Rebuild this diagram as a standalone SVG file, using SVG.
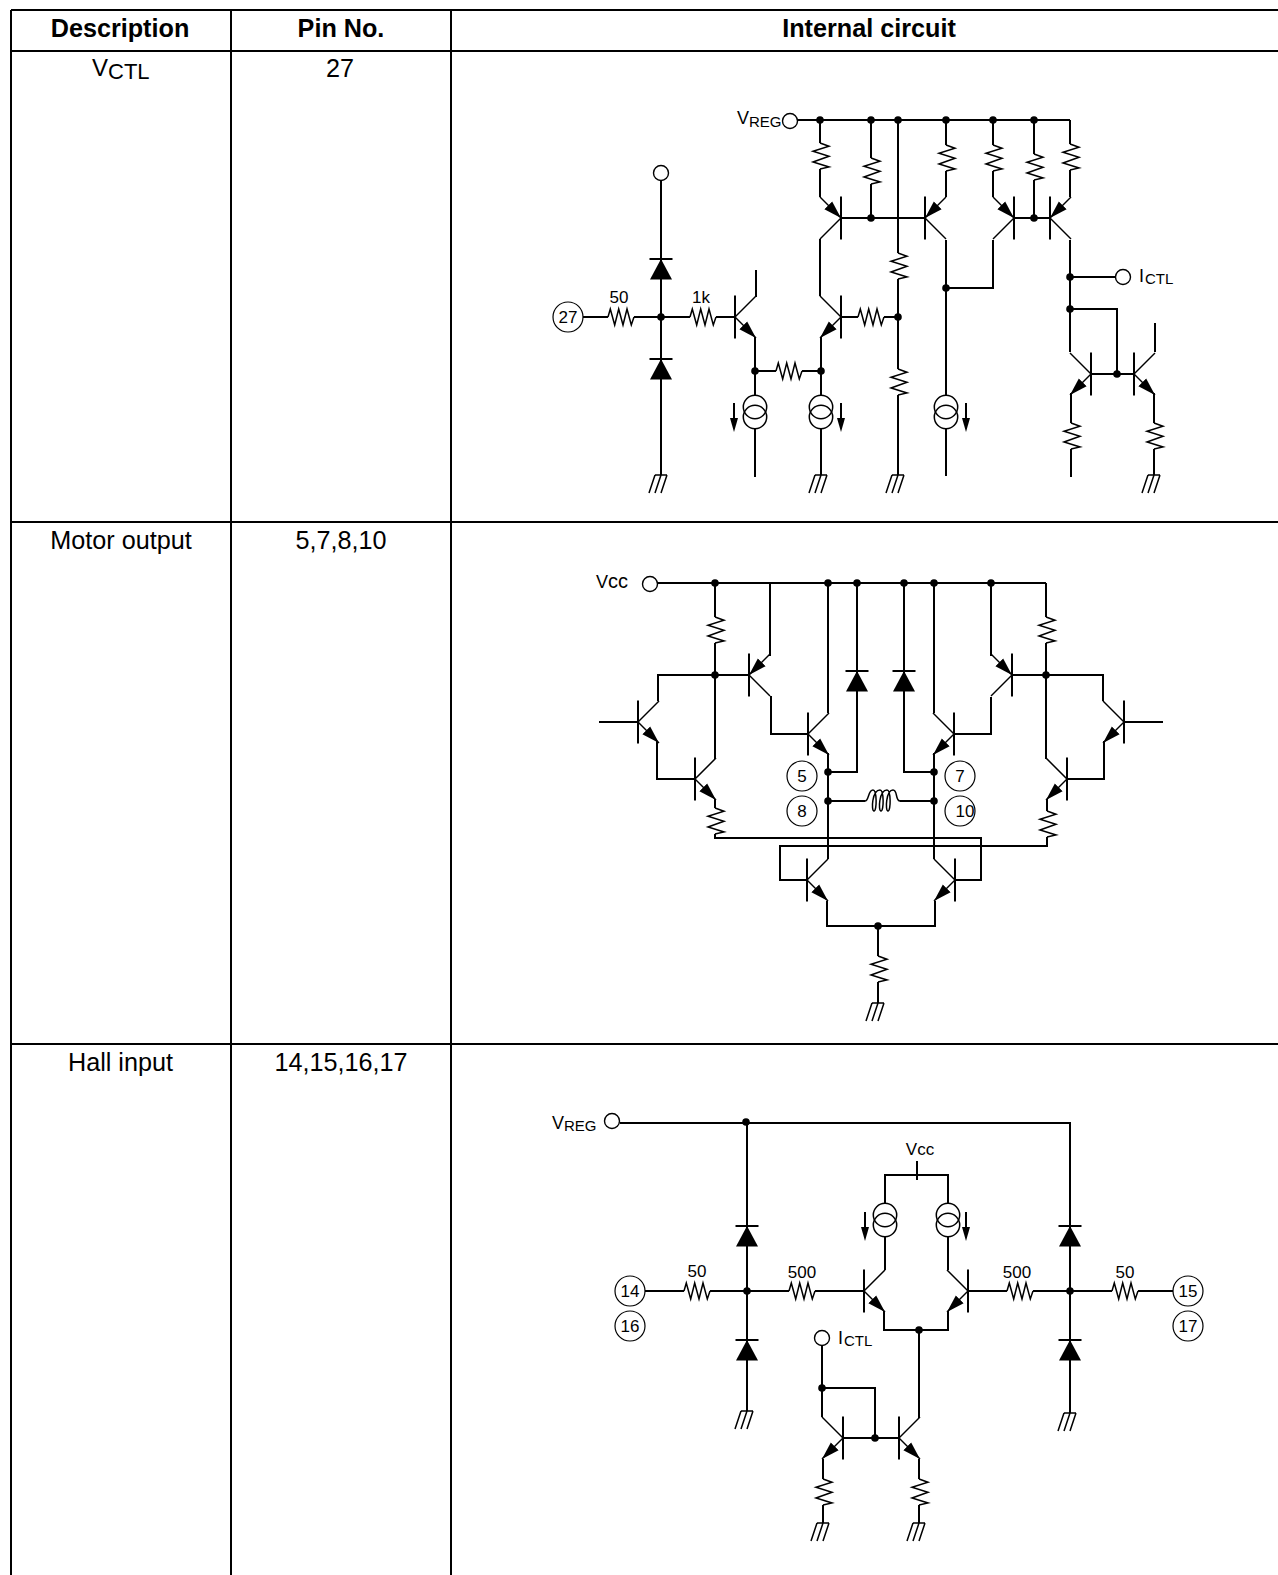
<svg xmlns="http://www.w3.org/2000/svg" width="1278" height="1575" viewBox="0 0 1278 1575">
<style>
text{font-family:"Liberation Sans",Arial,sans-serif;fill:#000}
.t{font-size:25.200px;text-anchor:middle}
.b{font-weight:bold}
.s{font-size:17px;text-anchor:middle}
.l{font-size:18px}
.sub{font-size:15px}
.grid{stroke:#000;stroke-width:2;fill:none}
.w{stroke:#000;stroke-width:2;fill:none}
.thin{stroke:#000;stroke-width:1.500;fill:none}
.bar{stroke:#000;stroke-width:2;fill:none}
.f{fill:#000;stroke:none}
.o{stroke:#000;stroke-width:1.400;fill:#fff}
.n{stroke:#000;stroke-width:1.200;fill:#fff}
</style>
<defs>
<marker id="ah" markerUnits="userSpaceOnUse" markerWidth="18" markerHeight="12" refX="18" refY="6" orient="auto"><path d="M0 .5L18 6L0 11.500Z" fill="#000"/></marker>
<g id="npn"><path class="bar" d="M0 -21.500V21.500"/><path class="thin" d="M0 0L21 -21"/><path class="thin" d="M0 0L21 21" marker-end="url(#ah)"/></g>
<g id="pnp"><path class="bar" d="M0 -21.500V21.500"/><path class="thin" d="M0 0L21 21"/><path class="thin" d="M21 -21L0 0" marker-end="url(#ah)"/></g>
<path id="rv" class="thin" d="M0 0L9 3.300L-7 8.300L9 13.300L-7 19L9 24L0 26"/>
<path id="rh" class="thin" d="M0 0L2.300 -8L6.700 8L10.700 -8L15 8L19 -8L23.300 8L26 0"/>
<g id="gnd"><path class="thin" d="M-6 0L-12 18M0 0L-6 18M6 0L0 18M-6 0H6"/></g>
<g id="dio"><path class="bar" d="M-11.500 0H11.500"/><path class="f" d="M0 0L-11 20.500H11Z"/></g>
<g id="cs"><circle class="thin" cx="0" cy="12" r="11.700"/><circle class="thin" cx="0" cy="22" r="11.700"/></g>
<g id="ia"><path class="w" d="M0 0V16"/><path class="f" d="M-4 15H4L0 29Z"/></g>
<circle id="dot" r="3.800" fill="#000"/>
<circle id="term" r="7.500" class="o"/>
<circle id="pin" r="15" class="n"/>
</defs>

<g id="table">
<path class="grid" d="M11 10H1278M11 51H1278M11 522H1278M11 1044H1278M11 10V1575M231 10V1575M451 10V1575"/>
<text class="t b" x="120" y="37">Description</text>
<text class="t b" x="341" y="37">Pin No.</text>
<text class="t b" x="869" y="37">Internal circuit</text>
<text x="92" y="76" font-size="24">V<tspan font-size="22" dy="3">CTL</tspan></text>
<text class="t" x="340" y="77">27</text>
<text class="t" x="121" y="549">Motor output</text>
<text class="t" x="341" y="549">5,7,8,10</text>
<text class="t" x="120.500" y="1071">Hall input</text>
<text class="t" x="341" y="1071">14,15,16,17</text>
</g>

<g id="connectors">
<path class="w" d="M797 120H1070M661 181V475M583 317H608M634 317H690M716 317H735M756 297V270M755 337V395M755 429V477M755 371H776M802 371H821M821 337V395M821 429V475M820 296V239M820 120V143M820 169V197M871 120V158M871 184V218M841 218H925M898 120V253M898 279V369M898 395V475M841 317H858M884 317H898M946 120V145M946 171V197M946 240V395M946 429V476M946 288H993V240M993 120V145M993 171V197M1034 120V154M1034 180V218M1014 218H1050M1070 120V144M1070 170V197M1070 240V352M1070 277H1115M1070 309H1117V374M1091 374H1134M1071 393V423M1071 449V477M1155 352V323M1154 393V423M1154 449V475"/>
<path class="w" d="M657 583H1046M715 583V617M715 643V759M715 799V808M715 834V838H981V880H955M770 583V656M771 696V734H808M828 583V713M828 753V859M857 583V772H828M904 583V772H934M934 583V713M934 753V859M991 583V656M991 697V734H954M1046 583V617M1046 643V759M658 701V675H749M599 722H638M657 741V779H695M1012 675H1103V701M1124 722H1163M1104 741V779H1067M1047 799V811M1047 837V846H780V880H807M827 901V926H935V901M878 926V956M878 982V1003M828 801H865M900 801H934"/>
<path class="w" d="M620 1123H1070V1413M747 1123V1411M645 1291H684M710 1291H789M815 1291H864M968 1291H1007M1033 1291H1112M1138 1291H1173M885 1203V1175H948V1203M917 1161V1180M885 1237V1270M948 1237V1270M884 1311V1330H948V1311M919 1330V1418M919 1459V1479M919 1505V1523M823 1459V1479M823 1505V1523M822 1346V1417M822 1388H875V1438M843 1438H899"/>
</g>

<g id="junctions">
<use href="#dot" x="820" y="120"/><use href="#dot" x="871" y="120"/><use href="#dot" x="898" y="120"/><use href="#dot" x="946" y="120"/><use href="#dot" x="993" y="120"/><use href="#dot" x="1034" y="120"/>
<use href="#dot" x="871" y="218"/><use href="#dot" x="1034" y="218"/><use href="#dot" x="661" y="317"/><use href="#dot" x="898" y="317"/><use href="#dot" x="755" y="371"/><use href="#dot" x="821" y="371"/><use href="#dot" x="946" y="288"/><use href="#dot" x="1070" y="277"/><use href="#dot" x="1070" y="309"/><use href="#dot" x="1117" y="374"/>
<use href="#dot" x="715" y="583"/><use href="#dot" x="828" y="583"/><use href="#dot" x="857" y="583"/><use href="#dot" x="904" y="583"/><use href="#dot" x="934" y="583"/><use href="#dot" x="991" y="583"/><use href="#dot" x="715" y="675"/><use href="#dot" x="1046" y="675"/><use href="#dot" x="828" y="772"/><use href="#dot" x="828" y="801"/><use href="#dot" x="934" y="772"/><use href="#dot" x="934" y="801"/><use href="#dot" x="878" y="926"/>
<use href="#dot" x="746" y="1122"/><use href="#dot" x="747" y="1291"/><use href="#dot" x="1070" y="1291"/><use href="#dot" x="919" y="1330"/><use href="#dot" x="822" y="1388"/><use href="#dot" x="875" y="1438"/>
</g>

<g id="q1"><use href="#npn" transform="translate(735 317)"/></g>
<g id="q2"><use href="#npn" transform="translate(841 317) scale(-1 1)"/></g>
<g id="q3"><use href="#pnp" transform="translate(841 218) scale(-1 1)"/></g>
<g id="q4"><use href="#pnp" transform="translate(925 218)"/></g>
<g id="q5"><use href="#pnp" transform="translate(1014 218) scale(-1 1)"/></g>
<g id="q6"><use href="#pnp" transform="translate(1050 218)"/></g>
<g id="q7"><use href="#npn" transform="translate(1091 374) scale(-1 1)"/></g>
<g id="q8"><use href="#npn" transform="translate(1134 374)"/></g>
<g id="q9"><use href="#npn" transform="translate(638 722)"/></g>
<g id="q10"><use href="#npn" transform="translate(695 779)"/></g>
<g id="q11"><use href="#pnp" transform="translate(749 675)"/></g>
<g id="q12"><use href="#npn" transform="translate(808 734)"/></g>
<g id="q13"><use href="#npn" transform="translate(954 734) scale(-1 1)"/></g>
<g id="q14"><use href="#pnp" transform="translate(1012 675) scale(-1 1)"/></g>
<g id="q15"><use href="#npn" transform="translate(1067 779) scale(-1 1)"/></g>
<g id="q16"><use href="#npn" transform="translate(1124 722) scale(-1 1)"/></g>
<g id="q17"><use href="#npn" transform="translate(807 880)"/></g>
<g id="q18"><use href="#npn" transform="translate(955 880) scale(-1 1)"/></g>
<g id="q19"><use href="#npn" transform="translate(864 1291)"/></g>
<g id="q20"><use href="#npn" transform="translate(968 1291) scale(-1 1)"/></g>
<g id="q21"><use href="#npn" transform="translate(843 1438) scale(-1 1)"/></g>
<g id="q22"><use href="#npn" transform="translate(899 1438)"/></g>

<g id="r1"><use href="#rh" x="608" y="317"/></g>
<g id="r2"><use href="#rh" x="690" y="317"/></g>
<g id="r3"><use href="#rh" x="776" y="371"/></g>
<g id="r4"><use href="#rh" x="858" y="317"/></g>
<g id="r5"><use href="#rv" x="820" y="143"/></g>
<g id="r6"><use href="#rv" x="871" y="158"/></g>
<g id="r7"><use href="#rv" x="898" y="253"/></g>
<g id="r8"><use href="#rv" x="898" y="369"/></g>
<g id="r9"><use href="#rv" x="946" y="145"/></g>
<g id="r10"><use href="#rv" x="993" y="145"/></g>
<g id="r11"><use href="#rv" x="1034" y="154"/></g>
<g id="r12"><use href="#rv" x="1070" y="144"/></g>
<g id="r13"><use href="#rv" x="1071" y="423"/></g>
<g id="r14"><use href="#rv" x="1154" y="423"/></g>
<g id="r15"><use href="#rv" x="715" y="617"/></g>
<g id="r16"><use href="#rv" x="715" y="808"/></g>
<g id="r17"><use href="#rv" x="1046" y="617"/></g>
<g id="r18"><use href="#rv" x="1047" y="811"/></g>
<g id="r19"><use href="#rv" x="878" y="956"/></g>
<g id="r20"><use href="#rh" x="684" y="1291"/></g>
<g id="r21"><use href="#rh" x="789" y="1291"/></g>
<g id="r22"><use href="#rh" x="1007" y="1291"/></g>
<g id="r23"><use href="#rh" x="1112" y="1291"/></g>
<g id="r24"><use href="#rv" x="823" y="1479"/></g>
<g id="r25"><use href="#rv" x="919" y="1479"/></g>

<g id="L1"><path class="thin" d="M865 801C869 801 868 790 873 790C877 790 877 811 874 811C871 811 872 790 880 790C884 790 884 811 881 811C878 811 879 790 887 790C891 790 891 811 888 811C885 811 886 790 893 790C898 790 895 801 900 801"/></g>

<g id="d1"><use href="#dio" x="661" y="259"/></g>
<g id="d2"><use href="#dio" x="661" y="359"/></g>
<g id="d3"><use href="#dio" x="857" y="671"/></g>
<g id="d4"><use href="#dio" x="904" y="671"/></g>
<g id="d5"><use href="#dio" x="747" y="1226"/></g>
<g id="d6"><use href="#dio" x="747" y="1340"/></g>
<g id="d7"><use href="#dio" x="1070" y="1226"/></g>
<g id="d8"><use href="#dio" x="1070" y="1340"/></g>

<g id="cs1"><use href="#cs" x="755" y="395"/><use href="#ia" x="734" y="403"/></g>
<g id="cs2"><use href="#cs" x="821" y="395"/><use href="#ia" x="841" y="403"/></g>
<g id="cs3"><use href="#cs" x="946" y="395"/><use href="#ia" x="966" y="403"/></g>
<g id="cs4"><use href="#cs" x="885" y="1203"/><use href="#ia" x="865" y="1212"/></g>
<g id="cs5"><use href="#cs" x="948" y="1203"/><use href="#ia" x="966" y="1212"/></g>

<g id="g1"><use href="#gnd" x="661" y="475"/></g>
<g id="g2"><use href="#gnd" x="821" y="475"/></g>
<g id="g3"><use href="#gnd" x="898" y="475"/></g>
<g id="g4"><use href="#gnd" x="1154" y="475"/></g>
<g id="g5"><use href="#gnd" x="878" y="1003"/></g>
<g id="g6"><use href="#gnd" x="747" y="1411"/></g>
<g id="g7"><use href="#gnd" x="1070" y="1413"/></g>
<g id="g8"><use href="#gnd" x="823" y="1523"/></g>
<g id="g9"><use href="#gnd" x="919" y="1523"/></g>

<g id="t1"><use href="#term" x="661" y="173"/></g>
<g id="t2"><use href="#term" x="790" y="121"/><text class="l" x="737" y="124">V<tspan class="sub" dy="3">REG</tspan></text></g>
<g id="t3"><use href="#term" x="1123" y="277"/><text class="l" x="1139" y="282">I<tspan class="sub" dy="2" dx="1">CTL</tspan></text></g>
<g id="t4"><use href="#term" x="650" y="584"/><text class="l" x="596" y="588">V<tspan font-size="20">cc</tspan></text></g>
<g id="t5"><use href="#term" x="612" y="1121"/><text class="l" x="552" y="1129">V<tspan class="sub" dy="2">REG</tspan></text></g>
<g id="t6"><use href="#term" x="822" y="1338"/><text class="l" x="838" y="1344">I<tspan class="sub" dy="2" dx="1">CTL</tspan></text></g>
<g id="t7"><text class="s" x="920" y="1155">Vcc</text></g>

<g id="p27"><use href="#pin" x="568" y="317"/><text class="s" x="568" y="323">27</text></g>
<g id="p5"><use href="#pin" x="802" y="776"/><text class="s" x="802" y="782">5</text></g>
<g id="p8"><use href="#pin" x="802" y="811"/><text class="s" x="802" y="817">8</text></g>
<g id="p7"><use href="#pin" x="960" y="776"/><text class="s" x="960" y="782">7</text></g>
<g id="p10"><use href="#pin" x="960" y="811"/><text class="s" x="965" y="817">10</text></g>
<g id="p14"><use href="#pin" x="630" y="1291"/><text class="s" x="630" y="1297">14</text></g>
<g id="p16"><use href="#pin" x="630" y="1326"/><text class="s" x="630" y="1332">16</text></g>
<g id="p15"><use href="#pin" x="1188" y="1291"/><text class="s" x="1188" y="1297">15</text></g>
<g id="p17"><use href="#pin" x="1188" y="1326"/><text class="s" x="1188" y="1332">17</text></g>

<g id="labels">
<text class="s" x="619" y="303">50</text>
<text class="s" x="701" y="303">1k</text>
<text class="s" x="697" y="1277">50</text>
<text class="s" x="802" y="1278">500</text>
<text class="s" x="1017" y="1278">500</text>
<text class="s" x="1125" y="1278">50</text>
</g>
</svg>
